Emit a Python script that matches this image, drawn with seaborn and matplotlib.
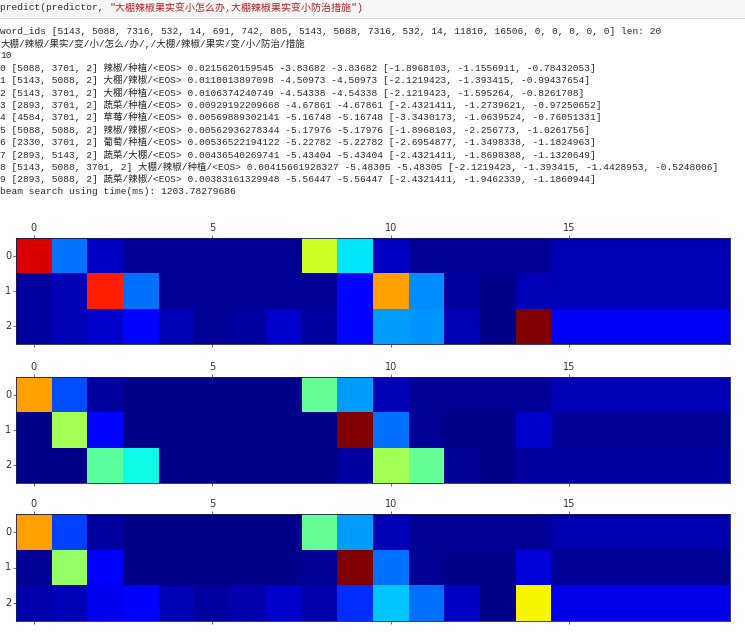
import matplotlib
matplotlib.use("Agg")
import matplotlib.pyplot as plt
import seaborn as sns
import numpy as np
from matplotlib.patches import Rectangle

# ---------------- data ----------------
code_prefix = "predict(predictor, "
code_string = "\"大棚辣椒果实变小怎么办,大棚辣椒果实变小防治措施\")"

output_lines = [
    "word_ids [5143, 5088, 7316, 532, 14, 691, 742, 805, 5143, 5088, 7316, 532, 14, 11810, 16506, 0, 0, 0, 0, 0] len: 20",
    "大棚/辣椒/果实/变/小/怎么/办/,/大棚/辣椒/果实/变/小/防治/措施",
    "10",
    "0 [5088, 3701, 2] 辣椒/种植/<EOS> 0.0215620159545 -3.83682 -3.83682 [-1.8968103, -1.1556911, -0.78432053]",
    "1 [5143, 5088, 2] 大棚/辣椒/<EOS> 0.0110013897098 -4.50973 -4.50973 [-2.1219423, -1.393415, -0.99437654]",
    "2 [5143, 3701, 2] 大棚/种植/<EOS> 0.0106374240749 -4.54338 -4.54338 [-2.1219423, -1.595264, -0.8261708]",
    "3 [2893, 3701, 2] 蔬菜/种植/<EOS> 0.00929192209668 -4.67861 -4.67861 [-2.4321411, -1.2739621, -0.97250652]",
    "4 [4584, 3701, 2] 草莓/种植/<EOS> 0.00569889302141 -5.16748 -5.16748 [-3.3430173, -1.0639524, -0.76051331]",
    "5 [5088, 5088, 2] 辣椒/辣椒/<EOS> 0.00562936278344 -5.17976 -5.17976 [-1.8968103, -2.256773, -1.0261756]",
    "6 [2330, 3701, 2] 葡萄/种植/<EOS> 0.00536522194122 -5.22782 -5.22782 [-2.6954877, -1.3498338, -1.1824963]",
    "7 [2893, 5143, 2] 蔬菜/大棚/<EOS> 0.00436540269741 -5.43404 -5.43404 [-2.4321411, -1.8698388, -1.1320649]",
    "8 [5143, 5088, 3701, 2] 大棚/辣椒/种植/<EOS> 0.00415661928327 -5.48305 -5.48305 [-2.1219423, -1.393415, -1.4428953, -0.5248006]",
    "9 [2893, 5088, 2] 蔬菜/辣椒/<EOS> 0.00383161329948 -5.56447 -5.56447 [-2.4321411, -1.9462339, -1.1860944]",
    "beam search using time(ms): 1203.78279686",
]

attn1_row0 = [0.92, 0.24, 0.06, 0.02, 0.02, 0.02, 0.02, 0.02, 0.60, 0.35, 0.06, 0.02, 0.02, 0.02, 0.02, 0.05, 0.05, 0.05, 0.05, 0.05]
attn1_row1 = [0.03, 0.05, 0.875, 0.235, 0.02, 0.02, 0.02, 0.02, 0.02, 0.13, 0.74, 0.265, 0.03, 0.01, 0.05, 0.05, 0.05, 0.05, 0.05, 0.05]
attn1_row2 = [0.03, 0.05, 0.07, 0.13, 0.05, 0.02, 0.03, 0.07, 0.03, 0.13, 0.28, 0.27, 0.05, 0.01, 1.0, 0.105, 0.105, 0.105, 0.105, 0.105]

attn2_row0 = [0.74, 0.20, 0.03, 0.01, 0.01, 0.01, 0.01, 0.01, 0.47, 0.28, 0.05, 0.02, 0.02, 0.02, 0.02, 0.05, 0.05, 0.05, 0.05, 0.05]
attn2_row1 = [0.01, 0.55, 0.13, 0.01, 0.01, 0.01, 0.01, 0.01, 0.01, 1.0, 0.235, 0.02, 0.01, 0.01, 0.07, 0.02, 0.02, 0.02, 0.02, 0.02]
attn2_row2 = [0.01, 0.01, 0.46, 0.37, 0.01, 0.01, 0.01, 0.01, 0.01, 0.03, 0.55, 0.47, 0.02, 0.01, 0.03, 0.03, 0.03, 0.03, 0.03, 0.03]

attn3_row0 = [0.74, 0.19, 0.03, 0.01, 0.01, 0.01, 0.01, 0.01, 0.47, 0.28, 0.05, 0.02, 0.02, 0.02, 0.02, 0.04, 0.04, 0.04, 0.04, 0.04]
attn3_row1 = [0.02, 0.53, 0.12, 0.01, 0.01, 0.01, 0.01, 0.01, 0.02, 1.0, 0.235, 0.02, 0.01, 0.01, 0.08, 0.02, 0.02, 0.02, 0.02, 0.02]
attn3_row2 = [0.04, 0.05, 0.10, 0.12, 0.05, 0.03, 0.04, 0.07, 0.04, 0.17, 0.32, 0.235, 0.06, 0.01, 0.65, 0.09, 0.09, 0.09, 0.09, 0.09]

x_tick_labels = ["0", "5", "10", "15"]
y_tick_labels = ["0", "1", "2"]

# ---------------- figure ----------------
W, H = 745, 632
fig = plt.figure(figsize=(W / 100, H / 100), dpi=100)
fig.patch.set_facecolor("white")

mono = ["Liberation Mono", "Noto Sans CJK SC"]
fs = 6.8
txt_color = "#2a2a2a"

def fy(py):
    return 1 - py / H

# code input cell
fig.patches.append(Rectangle((0, fy(17)), 1, 17 / H, transform=fig.transFigure,
                             facecolor="#f7f7f7", edgecolor="none", zorder=0))
fig.lines.append(plt.Line2D([0, 1], [fy(17.5), fy(17.5)], transform=fig.transFigure,
                            color="#d0d0d0", lw=0.8))
t0 = fig.text(0.5 / W, fy(7.5), code_prefix, family=mono, fontsize=fs, color=txt_color,
              va="center", ha="left")
renderer = fig.canvas.get_renderer()
bb = t0.get_window_extent(renderer=renderer)
fig.text(bb.x1 / W, fy(7.5), code_string, family=mono, fontsize=fs + 0.4, color="#BA2121",
         va="center", ha="left")

# output lines
y0, dy = 31.0, 12.35
for i, line in enumerate(output_lines):
    fig.text(0.5 / W, fy(y0 + i * dy), line, family=mono, fontsize=fs, color=txt_color,
             va="center", ha="left")

# heatmaps
left, right = 16, 730
boxes = [(238, 344), (377, 483), (514, 621)]
mats = [
    np.array([attn1_row0, attn1_row1, attn1_row2]),
    np.array([attn2_row0, attn2_row1, attn2_row2]),
    np.array([attn3_row0, attn3_row1, attn3_row2]),
]
for (top, bot), m in zip(boxes, mats):
    ax = fig.add_axes([left / W, fy(bot), (right - left) / W, (bot - top) / H])
    sns.heatmap(m, cmap="jet", vmin=0, vmax=1, cbar=False, ax=ax, linewidths=0)
    ax.xaxis.tick_top()
    ax.set_xticks(np.array([0, 5, 10, 15]) + 0.5)
    ax.set_xticklabels(x_tick_labels, rotation=0)
    ax.set_yticks(np.arange(3) + 0.5)
    ax.set_yticklabels(y_tick_labels, rotation=0)
    ax.tick_params(axis="both", length=2, width=0.6, color="#555555",
                   labelsize=7, labelcolor="#333333", pad=1.5)
    ax.tick_params(axis="x", bottom=True, top=True)
    for s in ax.spines.values():
        s.set_visible(True)
        s.set_color("#1a1a50")
        s.set_linewidth(0.6)
    ax.set_xlabel("")
    ax.set_ylabel("")

fig.savefig("out.png", dpi=100, facecolor="white")
